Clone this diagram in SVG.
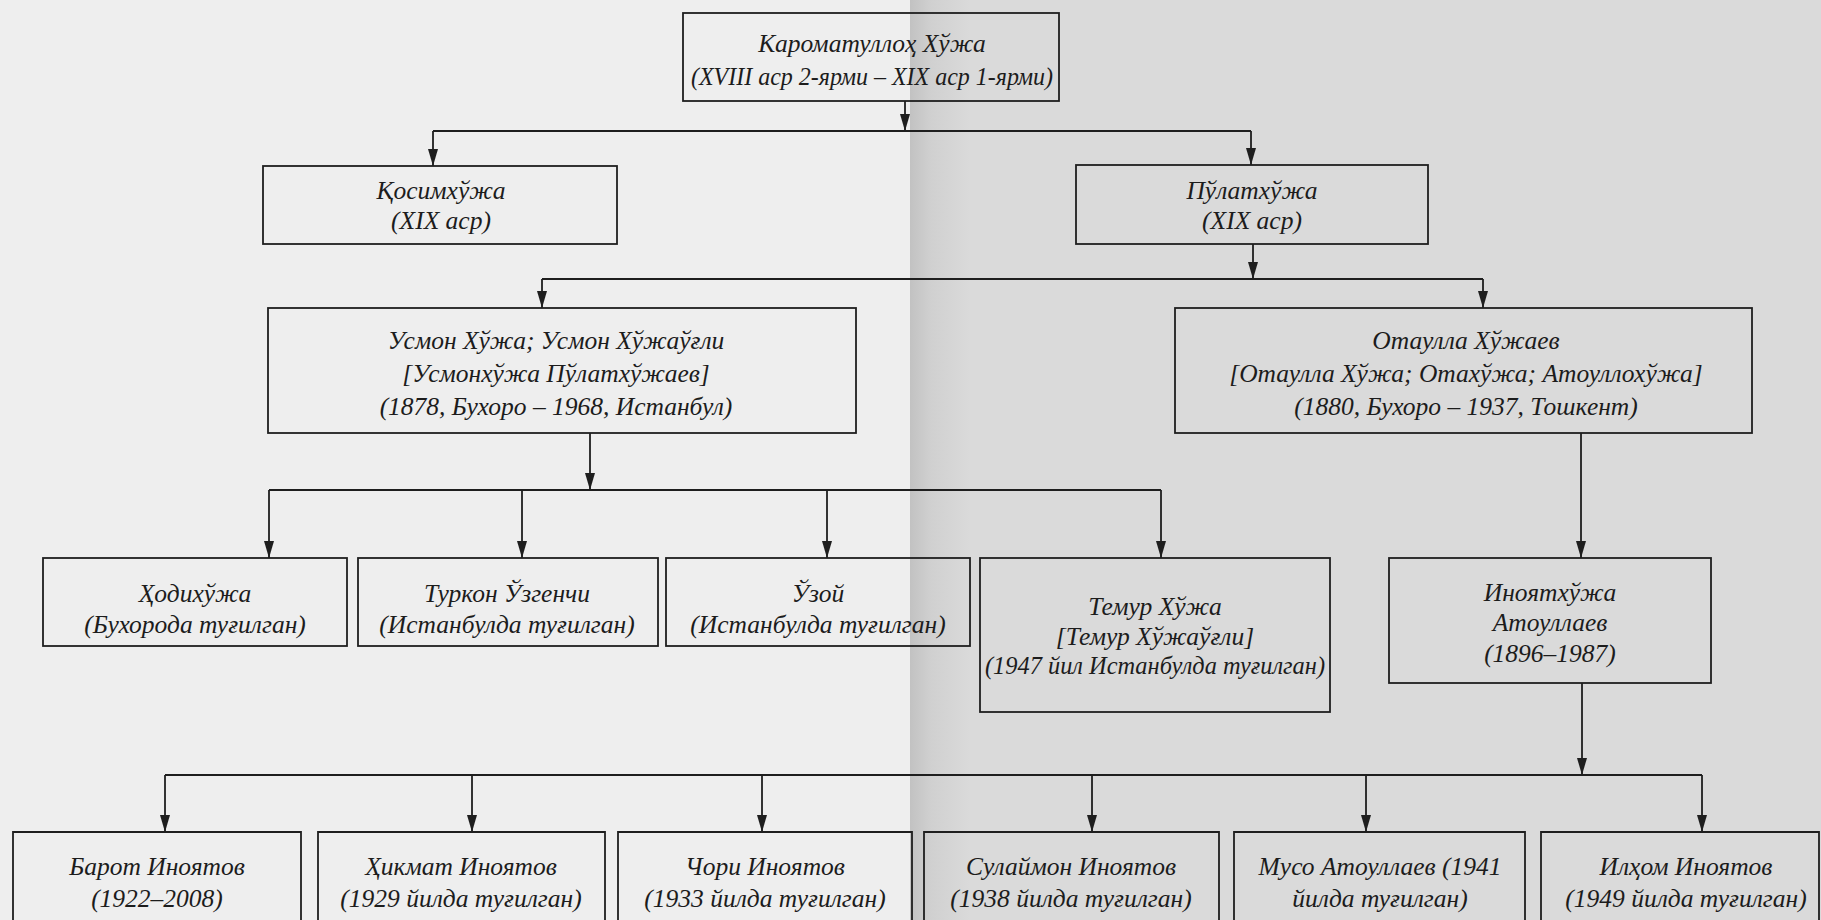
<svg xmlns="http://www.w3.org/2000/svg" width="1821" height="920" viewBox="0 0 1821 920">
<defs>
<marker id="ah" viewBox="0 0 17 10" refX="17" refY="5" markerWidth="17" markerHeight="10" orient="auto" markerUnits="userSpaceOnUse">
<path d="M0,0 L17,5 L0,10 z" fill="#1e1e1e"/>
</marker>
<linearGradient id="gut" x1="0" y1="0" x2="1" y2="0">
<stop offset="0" stop-color="#c2c2c2"/>
<stop offset="0.35" stop-color="#d0d0d0"/>
<stop offset="1" stop-color="#dadada"/>
</linearGradient>
</defs>
<style>
.box{fill:none;stroke:#1e1e1e;stroke-width:1.8}
.c{fill:none;stroke:#1e1e1e;stroke-width:1.8}
.t{font-family:"Liberation Serif","DejaVu Serif",serif;font-style:italic;font-size:25.5px;fill:#1c1c1c;text-anchor:middle}
</style>
<rect x="0" y="0" width="1821" height="920" fill="#eeeeee"/>
<rect x="910" y="0" width="911" height="920" fill="#dadada"/>
<rect x="910" y="0" width="60" height="920" fill="url(#gut)"/>

<g id="connectors">
<path class="c" d="M905,101 V131" marker-end="url(#ah)"/>
<path class="c" d="M433,131 H1251"/>
<path class="c" d="M433,131 V166" marker-end="url(#ah)"/>
<path class="c" d="M1251,131 V165" marker-end="url(#ah)"/>
<path class="c" d="M1253,244 V279" marker-end="url(#ah)"/>
<path class="c" d="M542,279 H1483"/>
<path class="c" d="M542,279 V308" marker-end="url(#ah)"/>
<path class="c" d="M1483,279 V308" marker-end="url(#ah)"/>
<path class="c" d="M590,433 V490" marker-end="url(#ah)"/>
<path class="c" d="M269,490 H1161"/>
<path class="c" d="M269,490 V558" marker-end="url(#ah)"/>
<path class="c" d="M522,490 V558" marker-end="url(#ah)"/>
<path class="c" d="M827,490 V558" marker-end="url(#ah)"/>
<path class="c" d="M1161,490 V558" marker-end="url(#ah)"/>
<path class="c" d="M1581,433 V558" marker-end="url(#ah)"/>
<path class="c" d="M1582,683 V775" marker-end="url(#ah)"/>
<path class="c" d="M165,775 H1702"/>
<path class="c" d="M165,775 V832" marker-end="url(#ah)"/>
<path class="c" d="M472,775 V832" marker-end="url(#ah)"/>
<path class="c" d="M762,775 V832" marker-end="url(#ah)"/>
<path class="c" d="M1092,775 V832" marker-end="url(#ah)"/>
<path class="c" d="M1366,775 V832" marker-end="url(#ah)"/>
<path class="c" d="M1702,775 V832" marker-end="url(#ah)"/>
</g>

<g id="n-karomatulloh">
<rect class="box" x="683" y="13" width="376" height="88"/>
<text class="t" x="872" y="52">Кароматуллоҳ Хўжа</text>
<text class="t" x="872" y="85" textLength="362" lengthAdjust="spacingAndGlyphs">(XVIII аср 2-ярми – XIX аср 1-ярми)</text>
</g>
<g id="n-qosimxoja">
<rect class="box" x="263" y="166" width="354" height="78"/>
<text class="t" x="441" y="199">Қосимхўжа</text>
<text class="t" x="441" y="229">(XIX аср)</text>
</g>
<g id="n-polatxoja">
<rect class="box" x="1076" y="165" width="352" height="79"/>
<text class="t" x="1252" y="199">Пўлатхўжа</text>
<text class="t" x="1252" y="229">(XIX аср)</text>
</g>
<g id="n-usmon">
<rect class="box" x="268" y="308" width="588" height="125"/>
<text class="t" x="556" y="349">Усмон Хўжа; Усмон Хўжаўғли</text>
<text class="t" x="556" y="382">[Усмонхўжа Пўлатхўжаев]</text>
<text class="t" x="556" y="415">(1878, Бухоро – 1968, Истанбул)</text>
</g>
<g id="n-otaulla">
<rect class="box" x="1175" y="308" width="577" height="125"/>
<text class="t" x="1466" y="349">Отаулла Хўжаев</text>
<text class="t" x="1466" y="382">[Отаулла Хўжа; Отахўжа; Атоуллохўжа]</text>
<text class="t" x="1466" y="415">(1880, Бухоро – 1937, Тошкент)</text>
</g>
<g id="n-hodixoja">
<rect class="box" x="43" y="558" width="304" height="88"/>
<text class="t" x="195" y="602">Ҳодихўжа</text>
<text class="t" x="195" y="633">(Бухорода туғилган)</text>
</g>
<g id="n-turkon">
<rect class="box" x="358" y="558" width="300" height="88"/>
<text class="t" x="507" y="602">Туркон Ўзгенчи</text>
<text class="t" x="507" y="633">(Истанбулда туғилган)</text>
</g>
<g id="n-ozoy">
<rect class="box" x="666" y="558" width="304" height="88"/>
<text class="t" x="818" y="602">Ўзой</text>
<text class="t" x="818" y="633">(Истанбулда туғилган)</text>
</g>
<g id="n-temur">
<rect class="box" x="980" y="558" width="350" height="154"/>
<text class="t" x="1155" y="615">Темур Хўжа</text>
<text class="t" x="1155" y="645">[Темур Хўжаўғли]</text>
<text class="t" x="1155" y="674" textLength="340" lengthAdjust="spacingAndGlyphs">(1947 йил Истанбулда туғилган)</text>
</g>
<g id="n-inoyatxoja">
<rect class="box" x="1389" y="558" width="322" height="125"/>
<text class="t" x="1550" y="601">Иноятхўжа</text>
<text class="t" x="1550" y="631">Атоуллаев</text>
<text class="t" x="1550" y="662">(1896–1987)</text>
</g>
<g id="n-barot">
<path class="box" d="M13,925 V832 H301 V925"/>
<text class="t" x="157" y="875">Барот Иноятов</text>
<text class="t" x="157" y="907">(1922–2008)</text>
</g>
<g id="n-hikmat">
<path class="box" d="M318,925 V832 H605 V925"/>
<text class="t" x="461" y="875">Ҳикмат Иноятов</text>
<text class="t" x="461" y="907">(1929 йилда туғилган)</text>
</g>
<g id="n-chori">
<path class="box" d="M618,925 V832 H912 V925"/>
<text class="t" x="765" y="875">Чори Иноятов</text>
<text class="t" x="765" y="907">(1933 йилда туғилган)</text>
</g>
<g id="n-sulaymon">
<path class="box" d="M924,925 V832 H1219 V925"/>
<text class="t" x="1071" y="875">Сулаймон Иноятов</text>
<text class="t" x="1071" y="907">(1938 йилда туғилган)</text>
</g>
<g id="n-muso">
<path class="box" d="M1234,925 V832 H1525 V925"/>
<text class="t" x="1380" y="875">Мусо Атоуллаев (1941</text>
<text class="t" x="1380" y="907">йилда туғилган)</text>
</g>
<g id="n-ilhom">
<path class="box" d="M1541,925 V832 H1819 V925"/>
<text class="t" x="1686" y="875">Илҳом Иноятов</text>
<text class="t" x="1686" y="907">(1949 йилда туғилган)</text>
</g>
</svg>
